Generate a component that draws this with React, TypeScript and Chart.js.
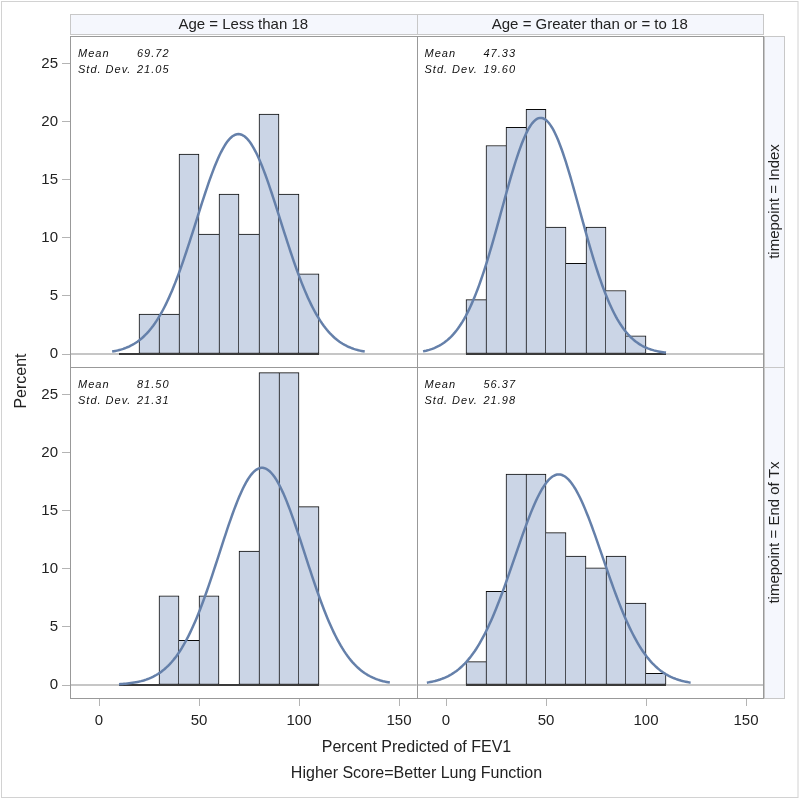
import { useEffect, useRef } from 'react';
import { Chart, registerables } from 'chart.js';

Chart.register(...registerables);

// ---------- data ----------
const BIN_CENTERS = [15, 25, 35, 45, 55, 65, 75, 85, 95, 105];
const BIN_WIDTH = 10;
const PCT_LT18_INDEX = [0, 3.45, 3.45, 17.24, 10.34, 13.79, 10.34, 20.69, 13.79, 6.9];
const PCT_GE18_INDEX = [4.69, 17.97, 19.53, 21.09, 10.94, 7.81, 10.94, 5.47, 1.56, 0];
const PCT_LT18_END = [0, 0, 7.69, 3.85, 7.69, 0, 11.54, 26.92, 26.92, 15.38];
const PCT_GE18_END = [2.02, 8.08, 18.18, 18.18, 13.13, 11.11, 10.1, 11.11, 7.07, 1.01];
const MEANS = [69.72, 47.33, 81.5, 56.37];
const STD_DEVS = [21.05, 19.6, 21.31, 21.98];
const COL_LABELS = ['Age = Less than 18', 'Age = Greater than or = to 18'];
const ROW_LABELS = ['timepoint = Index', 'timepoint = End of Tx'];
const X_TICKS = [0, 50, 100, 150];
const Y_TICKS = [0, 5, 10, 15, 20, 25];
const X_TITLE = 'Percent Predicted of FEV1';
const X_SUBTITLE = 'Higher Score=Better Lung Function';
const Y_TITLE = 'Percent';

// ---------- style ----------
const FONT = '"Liberation Sans", Arial, sans-serif';
const BAR_FILL = '#CBD5E6';
const BAR_EDGE = '#0a0a0a';
const CURVE = '#6580AA';
const TEXT = '#222';
const FRAME = '#999999';
const LIGHT_FRAME = '#c8c8c8';
const STRIP_FILL = '#f5f7fd';

const BIN_START = BIN_CENTERS[0] - BIN_WIDTH / 2;
const BIN_END = BIN_CENTERS[BIN_CENTERS.length - 1] + BIN_WIDTH / 2;

function normalCurve(mean: number, sd: number) {
  const lo = Math.min(BIN_START, mean - 3 * sd);
  const hi = Math.max(BIN_END, mean + 3 * sd);
  const pts: { x: number; y: number }[] = [];
  const n = 160;
  for (let i = 0; i <= n; i++) {
    const x = lo + ((hi - lo) * i) / n;
    const z = (x - mean) / sd;
    pts.push({ x, y: (100 * BIN_WIDTH * Math.exp(-0.5 * z * z)) / (sd * Math.sqrt(2 * Math.PI)) });
  }
  return pts;
}

const PANELS = [
  { values: PCT_LT18_INDEX, x: 'xL', y: 'yT' },
  { values: PCT_GE18_INDEX, x: 'xR', y: 'yT' },
  { values: PCT_LT18_END, x: 'xL', y: 'yB' },
  { values: PCT_GE18_END, x: 'xR', y: 'yB' },
];

function barBorder(ctx: any) {
  const d = ctx.dataset.data as { x: number; y: number }[];
  const i = ctx.dataIndex;
  const v = d[i].y;
  const prev = i > 0 ? d[i - 1].y : -1;
  const next = i < d.length - 1 ? d[i + 1].y : -1;
  return { top: 1, bottom: 1, left: prev <= v ? 1 : 0, right: next < v ? 1 : 0 };
}

function buildDatasets() {
  const ds: any[] = [];
  PANELS.forEach((p, k) => {
    ds.push({
      type: 'bar',
      data: BIN_CENTERS.map((c, i) => ({ x: c, y: p.values[i] })),
      xAxisID: p.x,
      yAxisID: p.y,
      backgroundColor: BAR_FILL,
      borderColor: BAR_EDGE,
      borderWidth: barBorder,
      borderSkipped: false,
      barPercentage: 1,
      categoryPercentage: 1,
      grouped: false,
      order: 3,
    });
    ds.push({
      type: 'line',
      data: [
        { x: BIN_START, y: 0 },
        { x: BIN_END, y: 0 },
      ],
      xAxisID: p.x,
      yAxisID: p.y,
      borderColor: '#3a3a3a',
      borderWidth: 2,
      pointRadius: 0,
      fill: false,
      order: 2,
    });
    ds.push({
      type: 'line',
      data: normalCurve(MEANS[k], STD_DEVS[k]),
      xAxisID: p.x,
      yAxisID: p.y,
      borderColor: CURVE,
      borderWidth: 2.5,
      pointRadius: 0,
      fill: false,
      tension: 0,
      order: 1,
    });
  });
  return ds;
}

function xScale(min: number, max: number, weight: number) {
  return {
    type: 'linear',
    position: 'bottom',
    stack: 'cols',
    stackWeight: 1,
    weight,
    min,
    max,
    offset: false,
    afterBuildTicks: (s: any) => {
      s.ticks = X_TICKS.map((v) => ({ value: v }));
    },
    afterFit: (s: any) => {
      s.height = 40;
    },
    ticks: {
      autoSkip: false,
      maxRotation: 0,
      padding: 6,
      color: TEXT,
      font: { family: FONT, size: 15 },
    },
    grid: { drawOnChartArea: false, drawTicks: true, tickLength: 8, color: '#b4b4b4', offset: false },
    border: { display: false },
  };
}

function yScale(weight: number) {
  return {
    type: 'linear',
    position: 'left',
    stack: 'rows',
    stackWeight: 1,
    weight,
    min: -1.12,
    max: 27.41,
    afterBuildTicks: (s: any) => {
      s.ticks = Y_TICKS.map((v) => ({ value: v }));
    },
    afterFit: (s: any) => {
      s.width = 40;
    },
    ticks: {
      padding: 4,
      color: TEXT,
      font: { family: FONT, size: 15 },
    },
    grid: { drawOnChartArea: false, drawTicks: true, tickLength: 8, color: '#b4b4b4' },
    border: { display: false },
  };
}

const panelPlugin = {
  id: 'sasPanels',
  beforeDraw(chart: any) {
    const ctx = chart.ctx as CanvasRenderingContext2D;
    const { xL, xR, yT, yB } = chart.scales;
    ctx.save();
    ctx.fillStyle = '#fff';
    ctx.fillRect(0, 0, chart.width, chart.height);
    ctx.strokeStyle = '#d2d2d2';
    ctx.lineWidth = 1;
    ctx.strokeRect(1.5, 1.5, chart.width - 3.5, chart.height - 4);

    // column headers
    const hTop = Math.round(yT.top) - 21.5;
    const hH = 20;
    [xL, xR].forEach((s: any, i: number) => {
      const l = Math.round(s.left) + 0.5;
      const r = Math.round(s.right) + 0.5;
      ctx.fillStyle = STRIP_FILL;
      ctx.fillRect(l, hTop, r - l, hH);
      ctx.strokeStyle = LIGHT_FRAME;
      ctx.strokeRect(l, hTop, r - l, hH);
      ctx.fillStyle = TEXT;
      ctx.font = `15px ${FONT}`;
      ctx.textAlign = 'center';
      ctx.textBaseline = 'middle';
      ctx.fillText(COL_LABELS[i], (s.left + s.right) / 2, hTop + hH / 2 + 0.5);
    });

    // row strips
    const sL = Math.round(xR.right) + 1.5;
    const sW = 20;
    [yT, yB].forEach((s: any, i: number) => {
      const t = Math.round(s.top) + 0.5;
      const b = Math.round(s.bottom) + 0.5;
      ctx.fillStyle = STRIP_FILL;
      ctx.fillRect(sL, t, sW, b - t);
      ctx.strokeStyle = LIGHT_FRAME;
      ctx.strokeRect(sL, t, sW, b - t);
      ctx.save();
      ctx.translate(sL + sW / 2 + 0.5, (s.top + s.bottom) / 2);
      ctx.rotate(-Math.PI / 2);
      ctx.fillStyle = TEXT;
      ctx.font = `15px ${FONT}`;
      ctx.textAlign = 'center';
      ctx.textBaseline = 'middle';
      ctx.fillText(ROW_LABELS[i], 0, 0);
      ctx.restore();
    });
    ctx.restore();
  },
  beforeDatasetsDraw(chart: any) {
    const ctx = chart.ctx as CanvasRenderingContext2D;
    const { xL, xR, yT, yB } = chart.scales;
    ctx.save();
    ctx.strokeStyle = '#c6c6c6';
    ctx.lineWidth = 2;
    [yT, yB].forEach((ys: any) => {
      const y = ys.getPixelForValue(0);
      [xL, xR].forEach((xs: any) => {
        ctx.beginPath();
        ctx.moveTo(xs.left, y);
        ctx.lineTo(xs.right, y);
        ctx.stroke();
      });
    });
    ctx.restore();
  },
  afterDatasetsDraw(chart: any) {
    const ctx = chart.ctx as CanvasRenderingContext2D;
    const { xL, xR, yT, yB } = chart.scales;
    ctx.save();
    ctx.strokeStyle = FRAME;
    ctx.lineWidth = 1;
    let k = 0;
    [yT, yB].forEach((ys: any) => {
      [xL, xR].forEach((xs: any) => {
        const l = Math.round(xs.left) + 0.5;
        const r = Math.round(xs.right) + 0.5;
        const t = Math.round(ys.top) + 0.5;
        const b = Math.round(ys.bottom) + 0.5;
        ctx.strokeRect(l, t, r - l, b - t);
        // stats inset
        ctx.fillStyle = '#111';
        ctx.font = `italic 11px ${FONT}`;
        (ctx as any).letterSpacing = '1px';
        ctx.textAlign = 'left';
        ctx.textBaseline = 'alphabetic';
        ctx.fillText('Mean', xs.left + 8, ys.top + 21);
        ctx.fillText('Std. Dev.', xs.left + 8, ys.top + 37);
        ctx.fillText(MEANS[k].toFixed(2), xs.left + 67, ys.top + 21);
        ctx.fillText(STD_DEVS[k].toFixed(2), xs.left + 67, ys.top + 37);
        (ctx as any).letterSpacing = '0px';
        k++;
      });
    });
    ctx.restore();
  },
  afterDraw(chart: any) {
    const ctx = chart.ctx as CanvasRenderingContext2D;
    const { xL, xR, yT, yB } = chart.scales;
    ctx.save();
    ctx.fillStyle = TEXT;
    ctx.font = `16px ${FONT}`;
    ctx.textAlign = 'center';
    ctx.textBaseline = 'middle';
    const cx = (xL.left + xR.right) / 2;
    ctx.fillText(X_TITLE, cx, 748);
    ctx.fillText(X_SUBTITLE, cx, 774);
    ctx.translate(22, (yT.top + yB.bottom) / 2 + 14);
    ctx.rotate(-Math.PI / 2);
    ctx.fillText(Y_TITLE, 0, 0);
    ctx.restore();
  },
};

export default function App() {
  const ref = useRef<HTMLCanvasElement>(null);
  useEffect(() => {
    document.body.style.margin = '0';
    const chart = new Chart(ref.current as HTMLCanvasElement, {
      type: 'bar',
      data: { datasets: buildDatasets() },
      options: {
        animation: false,
        responsive: false,
        events: [],
        layout: { padding: { left: 30, right: 37, top: 36, bottom: 62 } },
        plugins: {
          legend: { display: false },
          title: { display: false },
          tooltip: { enabled: false },
        },
        scales: {
          xL: xScale(-14.5, 158.75, 0),
          xR: xScale(-14.75, 158.5, 1),
          yT: yScale(1),
          yB: yScale(0),
        } as any,
      },
      plugins: [panelPlugin],
    } as any);
    return () => chart.destroy();
  }, []);
  return (
    <div style={{ width: 800, height: 800 }}>
      <canvas ref={ref} width={800} height={800} style={{ display: 'block' }} />
    </div>
  );
}
